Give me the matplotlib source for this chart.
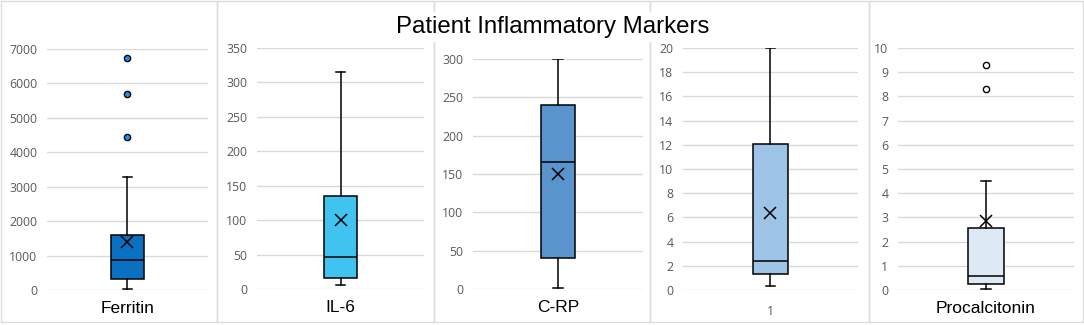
import matplotlib
matplotlib.use("Agg")
import matplotlib.pyplot as plt
from matplotlib.patches import Rectangle

# ---- data ----
labels = ["Ferritin", "IL-6", "C-RP", "1", "Procalcitonin"]
whislo = [40, 5.3, 1, 0.3, 0.055]
q1 = [330, 16.5, 40.4, 1.3, 0.25]
med = [880, 47, 166, 2.43, 0.58]
q3 = [1600, 135, 240, 12.03, 2.55]
whishi = [3280, 315.6, 300, 20, 4.51]
means = [1380, 100, 149.6, 6.34, 2.87]
fliers = [[4430, 5690, 6750], [], [], [], [8.3, 9.31]]
ymax = [7000, 350, 300, 20, 10]
ystep = [1000, 50, 50, 2, 1]
title = "Patient Inflammatory Markers"

# ---- style ----
colors = ["#0A70C2", "#41C3F0", "#5A94CC", "#9DC3E6", "#DDEAF6"]
flier_fc = ["#1E90F0", None, None, None, "white"]
W, H = 1084, 325
fig = plt.figure(figsize=(W / 100, H / 100), dpi=100)
fig.patch.set_facecolor("white")

# plot areas in pixels: (left, right, top, bottom)
areas = [(47, 208, 49, 290), (257, 424, 48, 289), (473, 643, 59, 289),
         (683, 858, 48, 290), (898, 1074, 48, 290)]
frames = [1, 217, 434, 650, 869, 1083]

for i in range(5):
    x0, x1 = frames[i], frames[i + 1]
    fig.patches.append(Rectangle((x0 / W, (H - 322) / H), (x1 - x0) / W, 321 / H,
                                 transform=fig.transFigure, fill=False,
                                 ec="#DCDCDC", lw=1.0, zorder=0))

tick_font = dict(family="Open Sans", size=8.8, color="#595959")
for i in range(5):
    l, r, t, b = areas[i]
    ax = fig.add_axes([l / W, (H - b) / H, (r - l) / W, (b - t) / H])
    stats = [dict(med=med[i], q1=q1[i], q3=q3[i], whislo=whislo[i],
                  whishi=whishi[i], mean=means[i], fliers=fliers[i], label=labels[i])]
    fc = flier_fc[i] if flier_fc[i] else "white"
    ax.bxp(stats, positions=[1], widths=0.2, capwidths=0.055, patch_artist=True,
           showmeans=True, showfliers=True,
           boxprops=dict(facecolor=colors[i], edgecolor="black", linewidth=1.1),
           medianprops=dict(color="black", linewidth=1.1),
           whiskerprops=dict(color="black", linewidth=1.1),
           capprops=dict(color="black", linewidth=1.1),
           meanprops=dict(marker="x", markeredgecolor="black", markersize=8,
                          markeredgewidth=1.1),
           flierprops=dict(marker="o", markerfacecolor=fc, markeredgecolor="black",
                           markersize=4.5, markeredgewidth=1.0))
    ax.set_xlim(0.5, 1.5)
    ax.set_ylim(0, ymax[i])
    ticks = [k * ystep[i] for k in range(int(round(ymax[i] / ystep[i])) + 1)]
    ax.set_yticks(ticks)
    ax.set_yticklabels([str(v) for v in ticks], fontdict=tick_font)
    ax.tick_params(axis="y", length=0, pad=7)
    ax.set_xticks([1])
    if labels[i] == "1":
        ax.set_xticklabels([labels[i]], fontdict=tick_font)
        ax.tick_params(axis="x", length=0, pad=11)
    else:
        ax.set_xticklabels([labels[i]], family="Liberation Sans", size=12.5, color="black")
        ax.tick_params(axis="x", length=0, pad=8)
    for s in ax.spines.values():
        s.set_visible(False)
    ax.yaxis.grid(True, color="#D9D9D9", linewidth=1.0)
    ax.set_axisbelow(True)
    ax.set_facecolor("none")

fig.text(553 / W, (H - 27) / H, title, ha="center", va="center",
         family="Liberation Sans", size=17.3, color="black",
         bbox=dict(facecolor="white", edgecolor="none", pad=3))

fig.savefig("out.png", dpi=100, facecolor="white")
